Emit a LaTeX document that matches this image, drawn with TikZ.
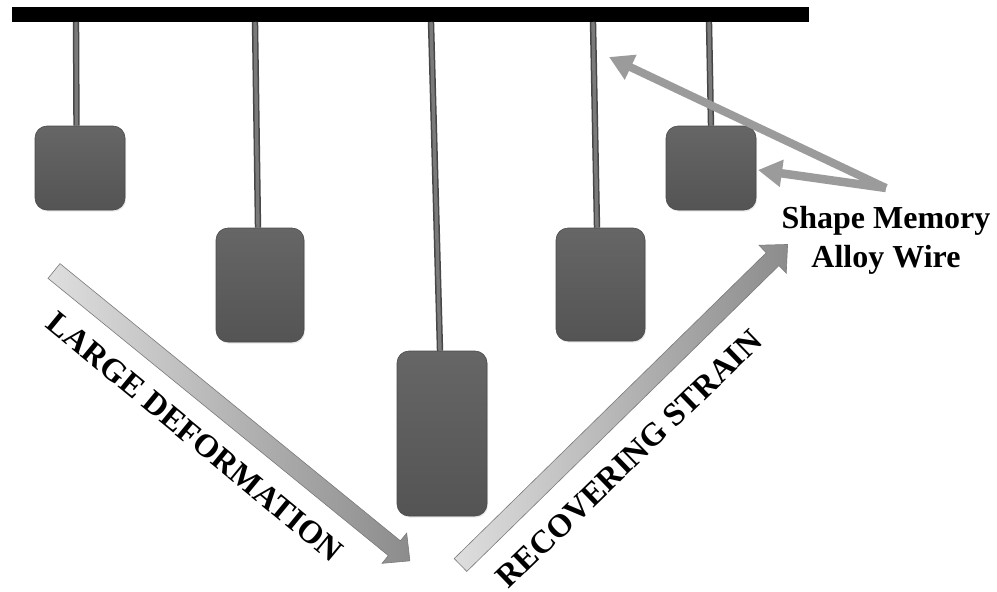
\documentclass[tikz,border=0pt]{standalone}
\usepackage{fontspec}
\setmainfont{Liberation Serif}
\usetikzlibrary{arrows.meta,shadows}
\definecolor{boxgray}{HTML}{5B5B5B}
\definecolor{boxtop}{HTML}{666666}
\definecolor{boxbot}{HTML}{545454}
\definecolor{boxedge}{HTML}{4A4A4A}
\definecolor{wireedge}{HTML}{474747}
\definecolor{wirecore}{HTML}{7A7A7A}
\definecolor{pointer}{HTML}{9B9B9B}
\definecolor{arrlight}{HTML}{DEDEDE}
\definecolor{arrdark}{HTML}{8C8C8C}
\definecolor{arredge}{HTML}{7A7A7A}
\begin{document}
\begin{tikzpicture}[x=1pt,y=-1pt,
  weight/.style={draw=boxedge, line width=0.6pt, top color=boxtop, bottom color=boxbot,
    rounded corners=12pt, inner sep=0pt,
    drop shadow={opacity=0.18, shadow xshift=1pt, shadow yshift=-1.5pt}},
  wire/.style={draw=wireedge, line width=1.5pt, double=wirecore, double distance=3.4pt},
  bigarrow/.style={left color=arrlight, right color=arrdark, draw=arredge, line width=0.6pt},
  pointerline/.style={draw=pointer, line width=8pt, -{Triangle[length=24pt,width=26pt]}},
  lbl/.style={font=\bfseries\fontsize{32.5}{38}\selectfont, inner sep=0pt},
  smalabel/.style={font=\bfseries\fontsize{32}{39}\selectfont, inner sep=0pt, align=center}
]
\useasboundingbox (0,0) rectangle (997,592);
\fill[white] (0,0) rectangle (997,592);

% top bar
\fill[black] (12,7) rectangle (809,22);

% weights
\node[weight, minimum width=90pt, minimum height=84pt]  (b1) at (80,168) {};
\node[weight, minimum width=88pt, minimum height=114pt] (b2) at (260,285) {};
\node[weight, minimum width=90pt, minimum height=165pt] (b3) at (442,433.5) {};
\node[weight, minimum width=89pt, minimum height=113pt] (b4) at (600.5,284.5) {};
\node[weight, minimum width=90pt, minimum height=84pt]  (b5) at (711,168) {};

% wire anchors on the bar
\coordinate (t1) at (76,22);
\coordinate (t2) at (255,22);
\coordinate (t3) at (431,22);
\coordinate (t4) at (593,22);
\coordinate (t5) at (709,22);

\draw[wire] (t1) -- ([xshift=-3.5pt]b1.north);
\draw[wire] (t2) -- ([xshift=-2pt]b2.north);
\draw[wire] (t3) -- ([xshift=-2pt]b3.north);
\draw[wire] (t4) -- ([xshift=-3.5pt]b4.north);
\draw[wire] (t5) -- (b5.north);

% large deformation arrow
\begin{scope}[shift={(54,271)}, rotate=-39.16]
  \shade[bigarrow] (0,-9.5) -- (439,-9.5) -- (439,-19.5) -- (459,0) -- (439,19.5) -- (439,9.5) -- (0,9.5) -- cycle;
\end{scope}

% recovering strain arrow
\begin{scope}[shift={(460.5,565)}, rotate=44.42]
  \shade[bigarrow] (0,-9) -- (437,-9) -- (437,-19.5) -- (458,0) -- (437,19.5) -- (437,9) -- (0,9) -- cycle;
\end{scope}

% labels
\node[lbl, rotate=-39.5] (ld) at (195,437) {LARGE DEFORMATION};
\node[lbl, rotate=44] (rs) at (629,459) {RECOVERING STRAIN};

\node[smalabel, anchor=north] (sma) at (886,206) {Shape Memory\\Alloy Wire};

% pointers
\coordinate (v) at (886,188);
\coordinate (p1) at (609,57);
\coordinate (p2) at (758,170);
\draw[pointerline] (v) -- (p1);
\draw[pointerline, line width=8.5pt] (v) -- (p2);
\end{tikzpicture}
\end{document}
